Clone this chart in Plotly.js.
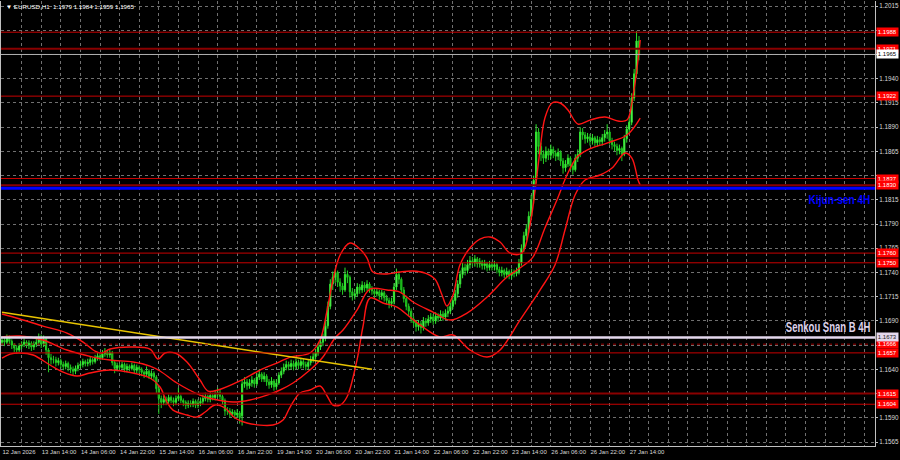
<!DOCTYPE html>
<html>
<head>
<meta charset="utf-8">
<script src="https://cdn.plot.ly/plotly-3.0.1.min.js"></script>
<style>
html,body{margin:0;padding:0;background:#000;}
#chart{width:900px;height:460px;}
</style>
</head>
<body>
<div id="chart"></div>
<script>
// EURUSD H1 bars from 12 Jan 22:00 to 27 Jan 18:00 (weekend hours are not bars)
const barOpen = [
 1.1668,1.1670,1.1668,1.1672,1.1669,1.1665,1.1662,1.1660,1.1664,1.1666,
 1.1668,1.1665,1.1667,1.1663,1.1666,1.1668,1.1673,1.1666,1.1671,1.1660,
 1.1652,1.1650,1.1650,1.1647,1.1649,1.1645,1.1643,1.1646,1.1642,1.1640,
 1.1638,1.1641,1.1644,1.1645,1.1648,1.1646,1.1647,1.1650,1.1648,1.1652,
 1.1654,1.1652,1.1656,1.1658,1.1655,1.1657,1.1647,1.1641,1.1644,1.1642,
 1.1645,1.1640,1.1643,1.1641,1.1644,1.1639,1.1642,1.1640,1.1637,1.1635,
 1.1638,1.1633,1.1636,1.1632,1.1620,1.1610,1.1606,1.1609,1.1607,1.1611,
 1.1608,1.1606,1.1610,1.1612,1.1608,1.1606,1.1603,1.1605,1.1604,1.1607,
 1.1603,1.1605,1.1607,1.1610,1.1612,1.1609,1.1613,1.1611,1.1614,1.1616,
 1.1612,1.1608,1.1597,1.1597,1.1594,1.1596,1.1593,1.1595,1.1592,1.1625,
 1.1627,1.1623,1.1626,1.1629,1.1625,1.1632,1.1635,1.1630,1.1633,1.1627,
 1.1624,1.1628,1.1622,1.1626,1.1634,1.1638,1.1642,1.1645,1.1643,1.1646,
 1.1643,1.1647,1.1644,1.1648,1.1645,1.1643,1.1647,1.1650,1.1653,1.1657,
 1.1663,1.1668,1.1672,1.1685,1.1705,1.1728,1.1735,1.1740,1.1730,1.1726,
 1.1722,1.1738,1.1735,1.1720,1.1716,1.1718,1.1725,1.1722,1.1727,1.1724,
 1.1728,1.1723,1.1721,1.1718,1.1720,1.1716,1.1719,1.1714,1.1711,1.1708,
 1.1710,1.1725,1.1738,1.1733,1.1722,1.1713,1.1705,1.1700,1.1692,1.1688,
 1.1684,1.1687,1.1683,1.1690,1.1688,1.1692,1.1694,1.1690,1.1695,1.1693,
 1.1697,1.1694,1.1698,1.1700,1.1705,1.1711,1.1718,1.1728,1.1738,1.1745,
 1.1742,1.1748,1.1752,1.1750,1.1754,1.1749,1.1751,1.1747,1.1749,1.1745,
 1.1748,1.1746,1.1748,1.1743,1.1740,1.1742,1.1738,1.1741,1.1737,1.1740,
 1.1739,1.1741,1.1750,1.1765,1.1778,1.1785,1.1798,1.1815,1.1836,1.1885,
 1.1870,1.1862,1.1858,1.1865,1.1861,1.1867,1.1863,1.1860,1.1864,1.1855,
 1.1848,1.1852,1.1858,1.1850,1.1846,1.1858,1.1862,1.1885,1.1882,1.1878,
 1.1880,1.1876,1.1879,1.1874,1.1877,1.1875,1.1879,1.1883,1.1885,1.1876,
 1.1872,1.1870,1.1866,1.1868,1.1862,1.1878,1.1888,1.1895,1.1920,1.1945,
 1.1979
];
const barHigh = [
 1.1674,1.1673,1.1676,1.1675,1.1671,1.1667,1.1665,1.1667,1.1669,1.1672,
 1.1670,1.1670,1.1669,1.1669,1.1673,1.1677,1.1676,1.1675,1.1673,1.1662,
 1.1656,1.1654,1.1653,1.1652,1.1651,1.1648,1.1649,1.1648,1.1645,1.1643,
 1.1644,1.1647,1.1649,1.1651,1.1650,1.1651,1.1653,1.1652,1.1655,1.1658,
 1.1657,1.1660,1.1662,1.1660,1.1661,1.1659,1.1649,1.1647,1.1646,1.1648,
 1.1647,1.1646,1.1645,1.1647,1.1646,1.1645,1.1644,1.1642,1.1639,1.1643,
 1.1640,1.1639,1.1638,1.1634,1.1622,1.1613,1.1613,1.1612,1.1614,1.1613,
 1.1611,1.1613,1.1621,1.1614,1.1610,1.1608,1.1608,1.1608,1.1610,1.1609,
 1.1609,1.1611,1.1614,1.1616,1.1614,1.1617,1.1616,1.1618,1.1621,1.1619,
 1.1614,1.1610,1.1601,1.1600,1.1599,1.1598,1.1599,1.1597,1.1630,1.1632,
 1.1630,1.1630,1.1633,1.1631,1.1636,1.1640,1.1637,1.1637,1.1635,1.1630,
 1.1632,1.1630,1.1630,1.1637,1.1642,1.1646,1.1649,1.1648,1.1650,1.1649,
 1.1651,1.1650,1.1652,1.1651,1.1648,1.1650,1.1654,1.1657,1.1661,1.1667,
 1.1672,1.1677,1.1690,1.1710,1.1733,1.1741,1.1744,1.1742,1.1734,1.1729,
 1.1745,1.1742,1.1737,1.1724,1.1723,1.1729,1.1728,1.1731,1.1730,1.1732,
 1.1730,1.1726,1.1724,1.1724,1.1722,1.1722,1.1721,1.1717,1.1714,1.1714,
 1.1729,1.1744,1.1741,1.1735,1.1725,1.1716,1.1708,1.1703,1.1695,1.1691,
 1.1691,1.1690,1.1694,1.1693,1.1696,1.1698,1.1697,1.1699,1.1698,1.1701,
 1.1700,1.1702,1.1705,1.1709,1.1715,1.1722,1.1732,1.1742,1.1750,1.1749,
 1.1753,1.1757,1.1756,1.1758,1.1756,1.1755,1.1753,1.1753,1.1751,1.1752,
 1.1751,1.1752,1.1750,1.1746,1.1746,1.1744,1.1745,1.1743,1.1744,1.1743,
 1.1745,1.1754,1.1769,1.1782,1.1790,1.1803,1.1820,1.1840,1.1893,1.1889,
 1.1874,1.1866,1.1870,1.1868,1.1872,1.1870,1.1866,1.1868,1.1866,1.1858,
 1.1856,1.1862,1.1860,1.1853,1.1862,1.1867,1.1890,1.1889,1.1885,1.1884,
 1.1883,1.1883,1.1881,1.1881,1.1880,1.1883,1.1887,1.1893,1.1887,1.1879,
 1.1875,1.1873,1.1872,1.1870,1.1882,1.1892,1.1900,1.1925,1.1950,1.1989,
 1.1984
];
const barLow = [
 1.1665,1.1664,1.1666,1.1666,1.1661,1.1658,1.1656,1.1658,1.1661,1.1663,
 1.1662,1.1661,1.1659,1.1660,1.1663,1.1665,1.1662,1.1663,1.1655,1.1637,
 1.1645,1.1646,1.1643,1.1644,1.1641,1.1639,1.1640,1.1638,1.1636,1.1634,
 1.1635,1.1638,1.1641,1.1642,1.1643,1.1643,1.1644,1.1645,1.1646,1.1649,
 1.1649,1.1650,1.1653,1.1652,1.1652,1.1644,1.1636,1.1638,1.1639,1.1640,
 1.1637,1.1637,1.1638,1.1639,1.1636,1.1636,1.1636,1.1633,1.1631,1.1632,
 1.1630,1.1630,1.1628,1.1615,1.1594,1.1600,1.1603,1.1603,1.1604,1.1605,
 1.1602,1.1603,1.1607,1.1605,1.1602,1.1599,1.1600,1.1601,1.1601,1.1600,
 1.1600,1.1602,1.1604,1.1607,1.1606,1.1606,1.1608,1.1608,1.1611,1.1609,
 1.1604,1.1592,1.1593,1.1590,1.1591,1.1589,1.1590,1.1584,1.1582,1.1621,
 1.1619,1.1620,1.1622,1.1621,1.1623,1.1629,1.1627,1.1627,1.1623,1.1620,
 1.1621,1.1618,1.1619,1.1624,1.1631,1.1635,1.1639,1.1639,1.1640,1.1639,
 1.1640,1.1640,1.1641,1.1641,1.1639,1.1640,1.1644,1.1647,1.1650,1.1654,
 1.1660,1.1664,1.1669,1.1682,1.1702,1.1722,1.1729,1.1725,1.1720,1.1717,
 1.1720,1.1729,1.1714,1.1711,1.1712,1.1715,1.1718,1.1719,1.1720,1.1721,
 1.1719,1.1717,1.1714,1.1715,1.1712,1.1712,1.1710,1.1707,1.1703,1.1704,
 1.1707,1.1722,1.1728,1.1718,1.1709,1.1701,1.1695,1.1688,1.1684,1.1679,
 1.1680,1.1677,1.1680,1.1684,1.1685,1.1688,1.1686,1.1687,1.1689,1.1690,
 1.1690,1.1691,1.1694,1.1697,1.1702,1.1707,1.1714,1.1724,1.1734,1.1737,
 1.1739,1.1744,1.1746,1.1746,1.1745,1.1745,1.1743,1.1743,1.1741,1.1742,
 1.1742,1.1742,1.1739,1.1736,1.1736,1.1734,1.1734,1.1733,1.1733,1.1735,
 1.1736,1.1738,1.1747,1.1761,1.1773,1.1781,1.1795,1.1811,1.1832,1.1862,
 1.1855,1.1852,1.1854,1.1856,1.1857,1.1858,1.1855,1.1856,1.1850,1.1842,
 1.1844,1.1849,1.1845,1.1841,1.1844,1.1854,1.1859,1.1877,1.1873,1.1874,
 1.1871,1.1872,1.1870,1.1870,1.1871,1.1871,1.1875,1.1878,1.1872,1.1867,
 1.1865,1.1861,1.1862,1.1855,1.1860,1.1874,1.1884,1.1892,1.1917,1.1941,
 1.1959
];
const barClose = [
 1.1670,1.1668,1.1672,1.1669,1.1665,1.1662,1.1660,1.1664,1.1666,1.1668,
 1.1665,1.1667,1.1663,1.1666,1.1668,1.1673,1.1666,1.1671,1.1660,1.1652,
 1.1650,1.1650,1.1647,1.1649,1.1645,1.1643,1.1646,1.1642,1.1640,1.1638,
 1.1641,1.1644,1.1645,1.1648,1.1646,1.1647,1.1650,1.1648,1.1652,1.1654,
 1.1652,1.1656,1.1658,1.1655,1.1657,1.1647,1.1641,1.1644,1.1642,1.1645,
 1.1640,1.1643,1.1641,1.1644,1.1639,1.1642,1.1640,1.1637,1.1635,1.1638,
 1.1633,1.1636,1.1632,1.1620,1.1610,1.1606,1.1609,1.1607,1.1611,1.1608,
 1.1606,1.1610,1.1612,1.1608,1.1606,1.1603,1.1605,1.1604,1.1607,1.1603,
 1.1605,1.1607,1.1610,1.1612,1.1609,1.1613,1.1611,1.1614,1.1616,1.1612,
 1.1608,1.1597,1.1597,1.1594,1.1596,1.1593,1.1595,1.1590,1.1625,1.1627,
 1.1623,1.1626,1.1629,1.1625,1.1632,1.1635,1.1630,1.1633,1.1627,1.1624,
 1.1628,1.1622,1.1626,1.1634,1.1638,1.1642,1.1645,1.1643,1.1646,1.1643,
 1.1647,1.1644,1.1648,1.1645,1.1643,1.1647,1.1650,1.1653,1.1657,1.1663,
 1.1668,1.1672,1.1685,1.1705,1.1728,1.1735,1.1740,1.1730,1.1726,1.1722,
 1.1738,1.1735,1.1720,1.1716,1.1718,1.1725,1.1722,1.1727,1.1724,1.1728,
 1.1723,1.1721,1.1718,1.1720,1.1716,1.1719,1.1714,1.1711,1.1708,1.1710,
 1.1725,1.1738,1.1733,1.1722,1.1713,1.1705,1.1700,1.1692,1.1688,1.1684,
 1.1687,1.1683,1.1690,1.1688,1.1692,1.1694,1.1690,1.1695,1.1693,1.1697,
 1.1694,1.1698,1.1700,1.1705,1.1711,1.1718,1.1728,1.1738,1.1745,1.1742,
 1.1748,1.1752,1.1750,1.1754,1.1749,1.1751,1.1747,1.1749,1.1745,1.1748,
 1.1746,1.1748,1.1743,1.1740,1.1742,1.1738,1.1741,1.1737,1.1740,1.1739,
 1.1741,1.1750,1.1765,1.1778,1.1785,1.1798,1.1815,1.1835,1.1885,1.1870,
 1.1862,1.1858,1.1865,1.1861,1.1867,1.1863,1.1860,1.1864,1.1855,1.1848,
 1.1852,1.1858,1.1850,1.1846,1.1858,1.1862,1.1885,1.1882,1.1878,1.1880,
 1.1876,1.1879,1.1874,1.1877,1.1875,1.1879,1.1883,1.1885,1.1876,1.1872,
 1.1870,1.1866,1.1868,1.1862,1.1878,1.1888,1.1895,1.1920,1.1945,1.1979,
 1.1965
];

// time axis labels, one every 16 bars
const timeLabels = [
 "12 Jan 2026","13 Jan 14:00","14 Jan 06:00","14 Jan 22:00","15 Jan 14:00",
 "16 Jan 06:00","16 Jan 22:00","19 Jan 14:00","20 Jan 06:00","20 Jan 22:00",
 "21 Jan 14:00","22 Jan 06:00","22 Jan 22:00","23 Jan 14:00","26 Jan 06:00",
 "26 Jan 22:00","27 Jan 14:00"
];

// price scale labels (blank where a level tag covers the value)
const priceTicks = [1.1565,1.1590,1.1615,1.1640,1.1665,1.1690,1.1715,1.1740,1.1765,1.1790,
                    1.1815,1.1840,1.1865,1.1890,1.1915,1.1940,1.1965,1.1990,1.2015];
const priceTickText = ["1.1565","1.1590","","1.1640","","1.1690","1.1715","1.1740","1.1765","1.1790",
                       "1.1815","","1.1865","1.1890","1.1915","1.1940","","","1.2015"];

// Bollinger envelope (bar index, price)
const upperIdx = [0,7.3,16.7,26.5,33.1,38,40.8,44.1,52.2,60.4,63.7,66.5,70.6,75.5,80.8,84.1,88.2,97.1,105.3,112.2,
 117.6,125.7,129.8,132.7,135.1,138,142,146.1,149,151.4,157.1,162.4,167.8,172.7,176.7,179.6,181.6,184.1,186.9,191,
 195.1,199.2,203.3,207.3,212.2,215.5,217.6,219.6,221.6,224.5,227.8,231,235.1,240,246.1,251.4,255.1,257.6,259.6,260.5];
const upperVal = [1.16971,1.16920,1.16847,1.16775,1.16682,1.16589,1.16569,1.16610,1.16631,1.16610,1.16507,1.16569,1.16569,1.16476,1.16290,1.16176,1.16187,1.16280,1.16393,1.16465,
 1.16527,1.16569,1.16703,1.17012,1.17322,1.17580,1.17704,1.17642,1.17549,1.17405,1.17384,1.17405,1.17415,1.17394,1.17332,1.17167,1.17054,1.17167,1.17477,1.17652,
 1.17745,1.17766,1.17714,1.17601,1.17601,1.17890,1.18251,1.18664,1.18994,1.19149,1.19149,1.19077,1.18932,1.18973,1.19004,1.18963,1.18973,1.19231,1.19593,1.19799];

const middleIdx = [0,7.3,16.7,26.5,37.1,44.1,53.5,60.4,64.5,71.4,80.8,86.1,94.3,101.2,108.2,113.5,118.8,125.7,131,135.9,
 139.2,144.9,150.2,157.1,162.4,167.8,175.9,182.9,189.8,198,206.1,211.4,216.7,221.6,226.5,230.6,234.7,238.8,246.9,255.1,260.5];
const middleVal = [1.16734,1.16744,1.16703,1.16600,1.16527,1.16496,1.16476,1.16434,1.16383,1.16259,1.16135,1.16094,1.16063,1.16084,1.16135,1.16187,1.16259,1.16393,1.16527,1.16724,
 1.16806,1.17012,1.17229,1.17219,1.17198,1.17095,1.16992,1.16909,1.16981,1.17147,1.17353,1.17446,1.17559,1.17859,1.18148,1.18406,1.18592,1.18664,1.18736,1.18819,1.18994];

const lowerIdx = [0,3.3,7.3,12.7,19.6,24.9,30.6,35.9,44.1,53.5,60.4,64.5,67.3,69.8,75.5,79.6,82.9,86.9,91,95.1,
 100,110.6,114.7,117.6,121.6,125.7,129.8,132.7,135.1,138,140.8,144.9,147.3,150.2,155.5,161.2,166.5,171.8,178.8,184.1,
 191,198,203.3,211.4,219.6,225.7,229.8,233.9,238,244.1,249,254.3,257.1,259.6,260.5];
const lowerVal = [1.16517,1.16558,1.16569,1.16548,1.16445,1.16372,1.16331,1.16362,1.16393,1.16362,1.16311,1.16218,1.16063,1.15980,1.15929,1.15908,1.15960,1.16032,1.16001,1.15898,
 1.15846,1.15826,1.15877,1.16011,1.16156,1.16187,1.16228,1.16125,1.16032,1.16032,1.16115,1.16496,1.16837,1.17136,1.17085,1.17043,1.16940,1.16837,1.16734,1.16755,
 1.16600,1.16527,1.16600,1.16909,1.17219,1.17477,1.17838,1.18199,1.18354,1.18406,1.18478,1.18633,1.18581,1.18354,1.18302];

// horizontal levels
const redLevels = [1.1988, 1.1922, 1.1837, 1.1760, 1.1750, 1.1657, 1.1604];
const darkLevels = [1.1971, 1.1830, 1.1615];
const dottedLevels = [1.1666];
const kijunLevel = [1.1827];
const senkouLevel = [1.1673];
const bidLevel = [1.1965];

// descending trend line (bar index, price)
const trendIdx = [0, 151];
const trendVal = [1.1699, 1.1640];

const barIdx = barClose.map((_, i) => i);

const bandLine = {color: '#ff1414', width: 1.4, shape: 'spline', smoothing: 1};
const traces = [
  {
    type: 'candlestick', x: barIdx,
    open: barOpen, high: barHigh, low: barLow, close: barClose,
    increasing: {line: {color: '#2ee62e', width: 1}, fillcolor: '#8cff8c'},
    decreasing: {line: {color: '#22cc22', width: 1}, fillcolor: '#0fa00f'},
    whiskerwidth: 0, hoverinfo: 'skip', showlegend: false
  },
  {type: 'scatter', mode: 'lines', x: upperIdx, y: upperVal, line: bandLine, hoverinfo: 'skip', showlegend: false},
  {type: 'scatter', mode: 'lines', x: middleIdx, y: middleVal, line: bandLine, hoverinfo: 'skip', showlegend: false},
  {type: 'scatter', mode: 'lines', x: lowerIdx, y: lowerVal, line: bandLine, hoverinfo: 'skip', showlegend: false},
  {type: 'scatter', mode: 'lines', x: trendIdx, y: trendVal, line: {color: '#e8c400', width: 1.5}, hoverinfo: 'skip', showlegend: false}
];

const shapes = [];
const hline = (y, color, width, dash) => ({
  type: 'line', xref: 'paper', x0: 0, x1: 1, yref: 'y', y0: y, y1: y,
  line: {color: color, width: width, dash: dash || 'solid'}, layer: 'above'
});
redLevels.forEach(v => shapes.push(hline(v, '#c80000', 1)));
darkLevels.forEach(v => shapes.push(hline(v, '#8a0000', 2)));
dottedLevels.forEach(v => shapes.push(hline(v, '#a00000', 1, 'dot')));
bidLevel.forEach(v => shapes.push(hline(v, '#b0b0b0', 1)));
kijunLevel.forEach(v => shapes.push(hline(v, '#0000ff', 3)));
senkouLevel.forEach(v => shapes.push(hline(v, '#e4d8ee', 2.5)));

const smallFont = 'Liberation Sans, Arial, sans-serif';
const tag = (v, bg, fg) => ({
  xref: 'paper', x: 1, xanchor: 'left', xshift: 1, yref: 'y', y: v, yanchor: 'middle',
  text: v.toFixed(4), showarrow: false, bgcolor: bg, borderpad: 0.8,
  font: {family: smallFont, size: 6, color: fg}
});
const annotations = [];
redLevels.concat(darkLevels, dottedLevels).forEach(v => annotations.push(tag(v, '#ff0000', '#ffffff')));
senkouLevel.forEach(v => annotations.push(tag(v, '#e4d8ee', '#202020')));
bidLevel.forEach(v => annotations.push(tag(v, '#ffffff', '#000000')));

annotations.push({
  xref: 'paper', x: 0.003, xanchor: 'left', yref: 'paper', y: 0.988, yanchor: 'middle',
  text: '▼ EURUSD,H1  1.1979 1.1984 1.1959 1.1965', showarrow: false,
  font: {family: smallFont, size: 6.2, color: '#ffffff'}
});
// level captions (drawn bold and condensed)
annotations.push({
  xref: 'paper', x: 0.9966, xanchor: 'right', yref: 'y', y: 1.1815, yanchor: 'middle',
  text: '<b>Kijun-sen 4H</b>', showarrow: false,
  font: {family: 'Liberation Sans, Arial, sans-serif', size: 13, color: '#0000ff'}
});
annotations.push({
  xref: 'paper', x: 0.9966, xanchor: 'right', yref: 'y', y: 1.1684, yanchor: 'middle',
  text: '<b>Senkou Snan B 4H</b>', showarrow: false,
  font: {family: 'Liberation Sans, Arial, sans-serif', size: 14, color: '#ddd3ea'}
});
const captionScale = {'Kijun-sen 4H': 0.78, 'Senkou Snan B 4H': 0.68};

const xTickVals = [], xTickText = [];
for (let k = 0; k <= 44; k++) {
  xTickVals.push(k * 8);
  xTickText.push(k % 2 === 0 && timeLabels[k / 2] ? timeLabels[k / 2] : '');
}

const layout = {
  width: 900, height: 460,
  margin: {l: 1, r: 25, t: 1, b: 14, pad: 0},
  paper_bgcolor: '#000000', plot_bgcolor: '#000000',
  showlegend: false, hovermode: false,
  xaxis: {
    type: 'linear', range: [-0.41, 356.33], fixedrange: true,
    rangeslider: {visible: false},
    tickmode: 'array', tickvals: xTickVals, ticktext: xTickText,
    tickangle: 0, ticklabelposition: 'outside right', automargin: false,
    showgrid: true, gridcolor: '#707070', griddash: '3px,3px', gridwidth: 1,
    zeroline: false, showline: true, linecolor: '#c0c0c0', linewidth: 1,
    ticks: '', tickfont: {family: smallFont, size: 6, color: '#d8d8d8'}
  },
  yaxis: {
    side: 'right', range: [1.15609, 1.20202], fixedrange: true, automargin: false,
    tickmode: 'array', tickvals: priceTicks, ticktext: priceTickText,
    showgrid: true, gridcolor: '#707070', griddash: '3px,3px', gridwidth: 1,
    zeroline: false, showline: true, linecolor: '#c0c0c0', linewidth: 1, mirror: true,
    ticks: 'outside', ticklen: 2, tickcolor: '#c0c0c0',
    tickfont: {family: smallFont, size: 6.3, color: '#d8d8d8'}
  },
  shapes: shapes,
  annotations: annotations
};

Plotly.newPlot('chart', traces, layout, {staticPlot: true, displayModeBar: false}).then(gd => {
  // squeeze the two level captions horizontally, anchored at their right edge
  gd.querySelectorAll('.annotation-text').forEach(t => {
    const k = captionScale[t.textContent];
    if (k) {
      t.style.transformBox = 'fill-box';
      t.style.transformOrigin = 'right center';
      t.style.transform = 'scaleX(' + k + ')';
    }
  });
});
</script>
</body>
</html>
